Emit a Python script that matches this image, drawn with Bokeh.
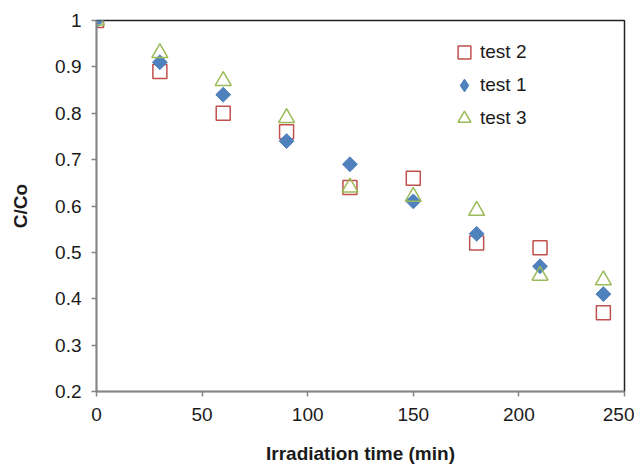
import math
from bokeh.plotting import figure
from bokeh.models import Legend, LegendItem, Range1d, FixedTicker
from bokeh.embed import file_html
from bokeh.resources import INLINE

time_min = [0, 30, 60, 90, 120, 150, 180, 210, 240]
test2 = [1.00, 0.89, 0.80, 0.76, 0.64, 0.66, 0.52, 0.51, 0.37]
test1 = [1.00, 0.91, 0.84, 0.74, 0.69, 0.61, 0.54, 0.47, 0.41]
test3 = [1.00, 0.93, 0.87, 0.79, 0.64, 0.62, 0.59, 0.45, 0.44]
x_ticks = [0, 50, 100, 150, 200, 250]
y_ticks = [0.2, 0.3, 0.4, 0.5, 0.6, 0.7, 0.8, 0.9, 1.0]

FONT = "Liberation Sans"
RED, BLUE, GREEN = "#C0504D", "#4F81BD", "#9BBB59"

p = figure(width=634, height=466, output_backend="svg", toolbar_location=None,
           x_range=Range1d(0, 250), y_range=Range1d(0.2, 1.0),
           min_border_left=96, min_border_right=10, min_border_top=20, min_border_bottom=75)
p.xgrid.visible = False
p.ygrid.visible = False
p.outline_line_color = "#222222"
p.outline_line_width = 1.5
p.background_fill_color = "white"
p.border_fill_color = "white"

r2 = p.scatter(time_min, test2, marker="square", size=14, fill_color=None,
               line_color=RED, line_width=1.5)
r1 = p.scatter(time_min, test1, marker="square", size=10.5, angle=math.pi / 4,
               fill_color=BLUE, line_color=BLUE, line_width=1)
r3 = p.scatter(time_min, test3, marker="triangle", size=16, fill_color=None,
               line_color=GREEN, line_width=1.5)
# hidden twin of test 1, used only so that the legend shows a diamond
r1_leg = p.scatter(time_min, test1, marker="diamond", size=15, fill_color=BLUE,
                   line_color=BLUE, line_width=1, visible=False)

for ax in (p.xaxis[0], p.yaxis[0]):
    ax.axis_line_color = "#868686"
    ax.axis_line_width = 1.5
    ax.major_tick_line_color = "#868686"
    ax.major_tick_line_width = 1.5
    ax.major_tick_out = 5
    ax.major_tick_in = 0
    ax.minor_tick_line_color = None
    ax.major_label_text_font = FONT
    ax.major_label_text_font_size = "19px"
    ax.major_label_text_color = "#1a1a1a"
    ax.axis_label_text_font = FONT
    ax.axis_label_text_font_size = "19px"
    ax.axis_label_text_font_style = "bold"
    ax.axis_label_text_color = "#1a1a1a"

p.xaxis.ticker = FixedTicker(ticks=x_ticks)
p.yaxis.ticker = FixedTicker(ticks=y_ticks)
p.yaxis.major_label_overrides = {1.0: "1"}
p.xaxis.axis_label = "Irradiation time (min)"
p.yaxis.axis_label = "C/Co"
p.xaxis.major_label_standoff = 11
p.yaxis.major_label_standoff = 10
p.xaxis.axis_label_standoff = 19
p.yaxis.axis_label_standoff = 21

legend = Legend(items=[LegendItem(label="test 2", renderers=[r2]),
                       LegendItem(label="test 1", renderers=[r1_leg]),
                       LegendItem(label="test 3", renderers=[r3])],
                location=(352, 257), glyph_width=32, glyph_height=32, spacing=1,
                label_standoff=0, padding=0, margin=0,
                border_line_alpha=0, background_fill_alpha=0,
                inactive_fill_alpha=0,
                label_text_font=FONT, label_text_font_size="19px",
                label_text_color="#1a1a1a")
p.add_layout(legend, "center")

open("out.html", "w").write(file_html(p, INLINE))
